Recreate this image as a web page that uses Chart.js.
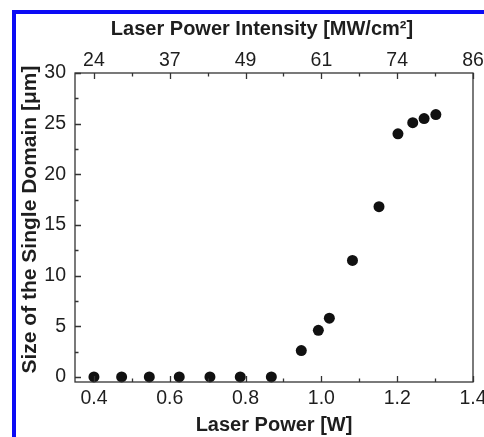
<!DOCTYPE html>
<html>
<head>
<meta charset="utf-8">
<script src="https://cdn.jsdelivr.net/npm/chart.js@4.4.1/dist/chart.umd.min.js"></script>
<style>
  html, body { margin: 0; padding: 0; background: #fff; }
  #wrap { position: relative; width: 484px; height: 437px; overflow: hidden; }
  #frame { position: absolute; left: 12px; top: 10px; width: 500px; height: 500px;
           border-top: 4px solid #0b0bf5; border-left: 4px solid #0b0bf5; pointer-events: none; }
  canvas { position: absolute; left: 0; top: 0; }
</style>
</head>
<body>
<div id="wrap">
  <canvas id="domainChart" width="484" height="437"></canvas>
  <div id="frame"></div>
</div>
<script>
// data
const laserPower = [0.40, 0.473, 0.546, 0.625, 0.706, 0.786, 0.868, 0.947, 0.992, 1.021, 1.082, 1.152, 1.202, 1.241, 1.271, 1.302];
const domainSize = [0, 0, 0, 0, 0, 0, 0, 2.6, 4.6, 5.8, 11.5, 16.8, 24.0, 25.1, 25.5, 25.9];

// axis ticks
const powerTicks = [0.4, 0.6, 0.8, 1.0, 1.2, 1.4];
const powerMinorTicks = [0.5, 0.7, 0.9, 1.1, 1.3];
const intensityLabels = ['24', '37', '49', '61', '74', '86'];
const sizeTicks = [0, 5, 10, 15, 20, 25, 30];
const sizeMinorTicks = [2.5, 7.5, 12.5, 17.5, 22.5, 27.5];

const FONT = "Arial, 'Liberation Sans', sans-serif";
const TEXT = '#1e1e1e';
const topTitle = 'Laser Power Intensity [MW/cm²]';
const leftTitle = 'Size of the Single Domain [μm]';

// frame, inward tick marks, and the two titles that sit off-centre in the original
const frameTicks = {
    id: 'frameTicks',
    afterDraw(chart) {
        const ctx = chart.ctx;
        const a = chart.chartArea;
        const x = chart.scales.x, y = chart.scales.y;
        ctx.save();
        ctx.strokeStyle = '#333';
        ctx.lineWidth = 1.3;
        ctx.strokeRect(a.left, a.top, a.right - a.left, a.bottom - a.top);
        ctx.beginPath();
        const xt = (v, len) => {
            const px = Math.round(x.getPixelForValue(v)) + 0.5;
            ctx.moveTo(px, a.bottom); ctx.lineTo(px, a.bottom - len);
            ctx.moveTo(px, a.top); ctx.lineTo(px, a.top + len);
        };
        const yt = (v, len) => {
            const py = Math.round(y.getPixelForValue(v)) + 0.5;
            ctx.moveTo(a.left, py); ctx.lineTo(a.left + len, py);
        };
        powerTicks.forEach(v => xt(v, 6));
        powerMinorTicks.forEach(v => xt(v, 3.5));
        sizeTicks.forEach(v => yt(v, 6));
        sizeMinorTicks.forEach(v => yt(v, 3.5));
        ctx.stroke();

        ctx.fillStyle = TEXT;
        ctx.textAlign = 'center';
        ctx.textBaseline = 'middle';
        ctx.font = 'bold 20px ' + FONT;
        ctx.fillText(topTitle, (a.left + a.right) / 2 - 12, 29);
        ctx.translate(30, (a.top + a.bottom) / 2 - 8);
        ctx.rotate(-Math.PI / 2);
        ctx.font = 'bold 21px ' + FONT;
        ctx.fillText(leftTitle, 0, 0);
        ctx.restore();
    }
};

// let the end labels overhang the canvas edge like the original
const noLabelPad = s => { s.paddingLeft = 0; s.paddingRight = 0; };

function initDomainChart() {
    const ctx = document.getElementById('domainChart');
    new Chart(ctx, {
        type: 'scatter',
        data: {
            datasets: [{
                data: laserPower.map((p, i) => ({ x: p, y: domainSize[i] })),
                backgroundColor: '#111',
                borderWidth: 0,
                pointRadius: 5.5,
                clip: false
            }]
        },
        options: {
            responsive: false,
            animation: false,
            layout: { padding: { left: 0, right: 11, top: 0, bottom: 0 } },
            plugins: { legend: { display: false }, tooltip: { enabled: false } },
            scales: {
                x: {
                    type: 'linear',
                    position: 'bottom',
                    min: 0.35,
                    max: 1.4,
                    afterBuildTicks: s => { s.ticks = powerTicks.map(v => ({ value: v })); },
                    afterFit: s => { s.height = 55; noLabelPad(s); },
                    grid: { display: false, drawTicks: false },
                    border: { display: false },
                    ticks: {
                        padding: 5,
                        color: TEXT,
                        font: { family: FONT, size: 19.5 },
                        maxRotation: 0,
                        callback: v => v.toFixed(1)
                    },
                    title: {
                        display: true,
                        text: 'Laser Power [W]',
                        color: TEXT,
                        font: { family: FONT, size: 20, weight: 'bold' },
                        padding: { top: 0, bottom: 0 }
                    }
                },
                x2: {
                    type: 'linear',
                    position: 'top',
                    min: 0.35,
                    max: 1.4,
                    afterBuildTicks: s => { s.ticks = powerTicks.map(v => ({ value: v })); },
                    afterFit: s => { s.height = 73; noLabelPad(s); },
                    grid: { display: false, drawTicks: false },
                    border: { display: false },
                    ticks: {
                        padding: 1,
                        color: TEXT,
                        font: { family: FONT, size: 19.5 },
                        maxRotation: 0,
                        callback: (v, i) => intensityLabels[i]
                    }
                },
                y: {
                    type: 'linear',
                    min: -0.5,
                    max: 30,
                    afterBuildTicks: s => { s.ticks = sizeTicks.map(v => ({ value: v })); },
                    afterFit: s => { s.width = 75; },
                    grid: { display: false, drawTicks: false },
                    border: { display: false },
                    ticks: {
                        padding: 9,
                        color: TEXT,
                        font: { family: FONT, size: 19.5 }
                    }
                }
            }
        },
        plugins: [frameTicks]
    });
}

document.addEventListener('DOMContentLoaded', initDomainChart);
</script>
</body>
</html>
